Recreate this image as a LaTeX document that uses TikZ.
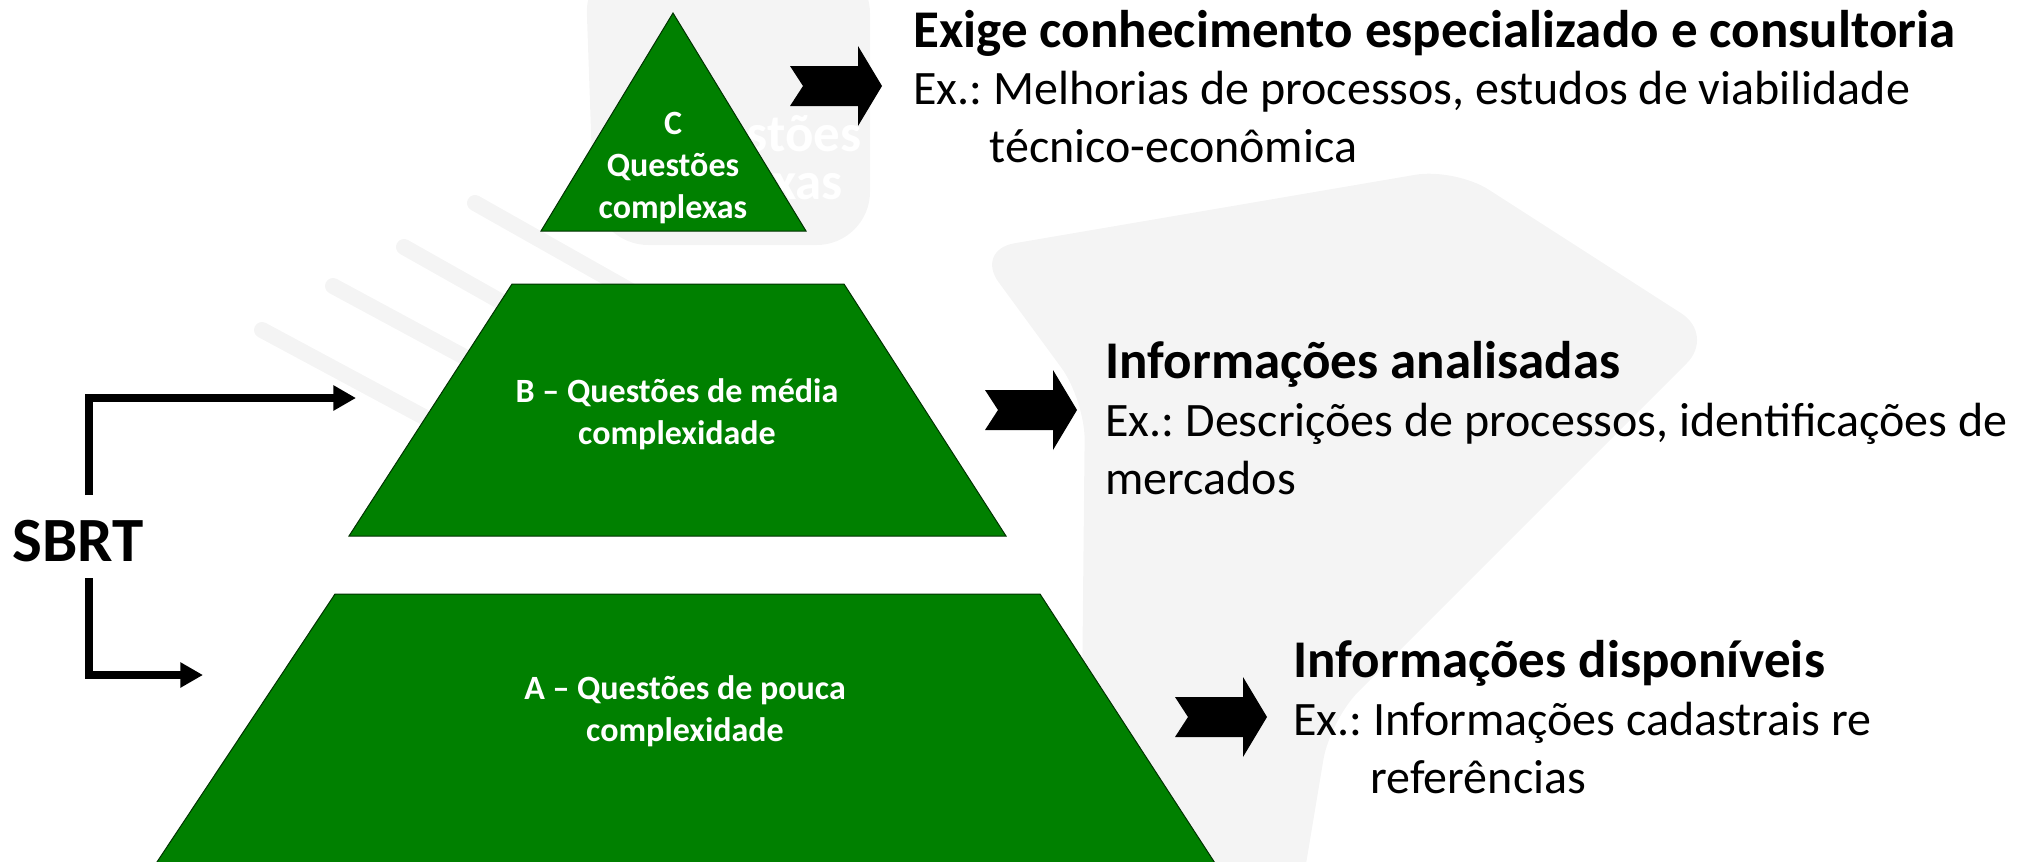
\documentclass[tikz,border=0pt]{standalone}
\usepackage{fontspec}
\setmainfont{Carlito}
\usetikzlibrary{arrows.meta}
\frenchspacing

\tikzset{every picture/.style={line width=0.75pt}}
\tikzset{
  tier/.style={draw={rgb, 255:red, 0; green, 50; blue, 0 }, fill={rgb, 255:red, 0; green, 128; blue, 0 }, line width=0.75pt},
  tierlabel/.style={text=white, align=center, inner sep=0pt, font=\bfseries\fontsize{25.5}{31.5}\selectfont},
  watermark/.style={fill={rgb, 255:red, 244; green, 244; blue, 244 }},
  finger/.style={draw={rgb, 255:red, 244; green, 244; blue, 244 }, line width=12pt, line cap=round},
  ghost/.style={text=white, align=right, anchor=east, inner sep=0pt, font=\bfseries\fontsize{39.75}{36}\selectfont},
  blockarrow/.style={fill=black, draw=none},
  sbrtline/.style={draw=black, line width=6pt, -{Triangle[length=17pt,width=18pt]}},
  headtext/.style={anchor=base west, inner sep=0pt, font=\bfseries\fontsize{39.75}{47.7}\selectfont},
  bodytext/.style={anchor=base west, inner sep=0pt, align=left, font=\fontsize{36}{43.5}\selectfont},
}

\begin{document}
\begin{tikzpicture}[x=0.75pt,y=0.75pt,yscale=-1,xscale=1]
\useasboundingbox (0,0) rectangle (2034,861);
\clip (0,0) rectangle (2034,861);

%Shape: Watermark
\fill [watermark, rounded corners=40] (585,-40) -- (870,-40) -- (870,245) -- (595,245) -- cycle ;
\fill [watermark, rounded corners=30] (975,250) -- (1455,168) -- (1715,335) -- (1330,720) -- (1300,900) -- (1080,900) -- (1085,400) -- cycle ;
%Straight Lines
\draw [finger] (262,330) -- (560,490) ;
\draw [finger] (333,286) -- (600,430) ;
\draw [finger] (404,247) -- (640,380) ;
\draw [finger] (475,203) -- (700,330) ;

% Text Node
\node [ghost] (ghostC) at (862,162) {Questões\\complexas\hspace*{14pt}};

%Shape: Triangle
\draw [tier] (673,13) -- (806,231) -- (541,231) -- cycle ;
%Shape: Trapezoid
\draw [tier] (512,284) -- (844,284) -- (1006,536) -- (349,536) -- cycle ;
%Shape: Trapezoid
\draw [tier] (335,594) -- (1040,594) -- (1226,880) -- (145,880) -- cycle ;

% Text Node
\node [tierlabel] (labC) at (673,168) {C\\Questões\\complexas};
% Text Node
\node [tierlabel] (labB) at (677,414) {B – Questões de média\\complexidade};
% Text Node
\node [tierlabel] (labA) at (685,711) {A – Questões de pouca\\complexidade};

%Shape: Notched Right Arrow
\fill [blockarrow, shift={(790,86)}] (0,-20) -- (68,-20) -- (68,-40) -- (92,0) -- (68,40) -- (68,20) -- (0,20) -- (13,0) -- cycle ;
%Shape: Notched Right Arrow
\fill [blockarrow, shift={(985,410)}] (0,-20) -- (68,-20) -- (68,-40) -- (92,0) -- (68,40) -- (68,20) -- (0,20) -- (13,0) -- cycle ;
%Shape: Notched Right Arrow
\fill [blockarrow, shift={(1175,717)}] (0,-20) -- (68,-20) -- (68,-40) -- (92,0) -- (68,40) -- (68,20) -- (0,20) -- (13,0) -- cycle ;

% Text Node
\node [headtext] (headC) at (913,47) {Exige conhecimento especializado e consultoria};
% Text Node
\node [bodytext] (bodyC) at (913,162) {Ex.: Melhorias de processos, estudos de viabilidade\\\hspace*{57pt}técnico-econômica};
% Text Node
\node [headtext] (headB) at (1105,378) {Informações analisadas};
% Text Node
\node [bodytext] (bodyB) at (1105,494) {Ex.: Descrições de processos, identificações de\\mercados};
% Text Node
\node [headtext] (headA) at (1293,677) {Informações disponíveis};
% Text Node
\node [bodytext] (bodyA) at (1293,793) {Ex.: Informações cadastrais re\\\hspace*{58pt}referências};

% Text Node
\node [font=\bfseries\fontsize{47.25}{56}\selectfont, inner sep=0pt] (sbrt) at (78,541) {SBRT};
\coordinate (sbrtUp) at (89,495);
\coordinate (sbrtDown) at (89,578);
\coordinate (tipB) at (356,398);
\coordinate (tipA) at (203,675);
%Straight Lines
\draw [sbrtline] (sbrtUp) |- (tipB) ;
\draw [sbrtline] (sbrtDown) |- (tipA) ;

\end{tikzpicture}
\end{document}
